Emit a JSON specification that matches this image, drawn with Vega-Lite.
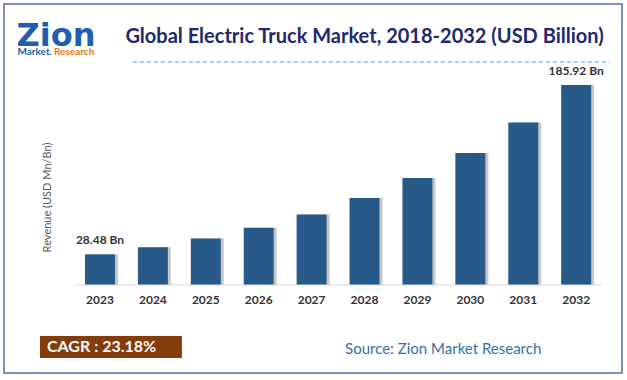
{
  "$schema": "https://vega.github.io/schema/vega-lite/v6.json",
  "width": 618,
  "height": 369,
  "autosize": {"type": "none"},
  "padding": {"left": 4, "top": 4, "right": 5, "bottom": 7},
  "background": "white",
  "config": {"view": {"stroke": "#4f7199", "strokeWidth": 1.5}, "font": "Lato"},
  "datasets": {
    "market": [
      {"year": "2023", "value": 28.48, "label": "28.48 Bn"},
      {"year": "2024", "value": 35.1, "label": ""},
      {"year": "2025", "value": 43.2, "label": ""},
      {"year": "2026", "value": 53.2, "label": ""},
      {"year": "2027", "value": 65.6, "label": ""},
      {"year": "2028", "value": 80.8, "label": ""},
      {"year": "2029", "value": 99.5, "label": ""},
      {"year": "2030", "value": 122.6, "label": ""},
      {"year": "2031", "value": 151.0, "label": ""},
      {"year": "2032", "value": 185.92, "label": "185.92 Bn"}
    ],
    "texts": [
      {"key": "title", "t": "Global Electric Truck Market, 2018-2032 (USD Billion)"},
      {"key": "zion", "t": "Zion"},
      {"key": "market", "t": "Market."},
      {"key": "research", "t": "Research"},
      {"key": "cagr", "t": "CAGR :  23.18%"},
      {"key": "source", "t": "Source: Zion Market Research"}
    ]
  },
  "layer": [
    {
      "data": {"name": "market"},
      "mark": {"type": "bar", "color": "#9a9a9a", "opacity": 0.55, "xOffset": 3, "width": {"band": 0.834}},
      "encoding": {
        "x": {
          "field": "year", "type": "ordinal",
          "scale": {"type": "band", "domain": ["2023","2024","2025","2026","2027","2028","2029","2030","2031","2032"], "paddingInner": 0.32, "paddingOuter": 1, "align": 0.737},
          "axis": {"orient": "bottom", "offset": -88, "domain": false, "ticks": false, "grid": false, "title": null, "labelPadding": 9, "labelFont": "Lato", "labelFontWeight": "bold", "labelFontSize": 12, "labelColor": "#333333", "labelAngle": 0}
        },
        "y": {
          "field": "value", "type": "quantitative",
          "scale": {"domain": [-81.8, 261.2], "zero": false, "nice": false},
          "axis": {"labels": false, "ticks": false, "domain": false, "grid": false, "title": "Revenue (USD Mn/Bn)", "titleFont": "Lato", "titleFontWeight": "normal", "titleFontSize": 11, "titleColor": "#595959", "titleX": 48, "titleY": 193, "titleAngle": -90, "titleAlign": "center"}
        },
        "y2": {"datum": 0}
      }
    },
    {
      "data": {"name": "market"},
      "mark": {"type": "bar", "color": "#275a88", "width": {"band": 0.834}},
      "encoding": {
        "x": {"field": "year", "type": "ordinal"},
        "y": {"field": "value", "type": "quantitative"},
        "y2": {"datum": 0}
      }
    },
    {
      "data": {"name": "market"},
      "mark": {"type": "text", "dy": -7, "baseline": "bottom", "fontWeight": "bold", "fontSize": 12, "color": "#333333"},
      "encoding": {
        "x": {"field": "year", "type": "ordinal"},
        "y": {"field": "value", "type": "quantitative"},
        "text": {"field": "label"}
      }
    },
    {
      "data": {"values": [{"k": 1}]},
      "mark": {"type": "rule", "color": "#d9d9d9", "strokeWidth": 1, "xOffset": -7, "x2Offset": 8},
      "encoding": {
        "x": {"datum": "2023", "type": "ordinal", "bandPosition": 0},
        "x2": {"datum": "2032", "bandPosition": 1},
        "y": {"datum": 0, "type": "quantitative"}
      }
    },
    {
      "data": {"values": [{"k": 1}]},
      "mark": {"type": "rule", "color": "#5b9bd5", "strokeWidth": 1, "strokeDash": [4, 3], "xOffset": -2, "x2Offset": 16},
      "encoding": {
        "x": {"datum": "2024", "type": "ordinal", "bandPosition": 0},
        "x2": {"datum": "2032", "bandPosition": 1},
        "y": {"datum": 207.3, "type": "quantitative"}
      }
    },
    {
      "data": {"name": "texts"},
      "transform": [{"filter": "datum.key === 'title'"}],
      "mark": {"type": "text", "align": "center", "baseline": "middle", "dx": 0, "fontSize": 20, "fontWeight": "bold", "color": "#1f2a6b"},
      "encoding": {
        "x": {"datum": "2028", "type": "ordinal"},
        "y": {"datum": 230.5, "type": "quantitative"},
        "text": {"field": "t"}
      }
    },
    {
      "data": {"name": "texts"},
      "transform": [{"filter": "datum.key === 'zion'"}],
      "mark": {"type": "text", "align": "center", "baseline": "alphabetic", "dx": -26, "font": "DejaVu Sans", "fontSize": 32, "fontWeight": "bold", "color": "#1f5fae"},
      "encoding": {
        "x": {"datum": "2023", "type": "ordinal", "bandPosition": 0},
        "y": {"datum": 222.2, "type": "quantitative"},
        "text": {"field": "t"}
      }
    },
    {
      "data": {"name": "texts"},
      "transform": [{"filter": "datum.key === 'market'"}],
      "mark": {"type": "text", "align": "right", "baseline": "middle", "dx": -30, "fontSize": 10, "fontWeight": "bold", "color": "#1f5fae"},
      "encoding": {
        "x": {"datum": "2023", "type": "ordinal", "bandPosition": 0},
        "y": {"datum": 216.6, "type": "quantitative"},
        "text": {"field": "t"}
      }
    },
    {
      "data": {"name": "texts"},
      "transform": [{"filter": "datum.key === 'research'"}],
      "mark": {"type": "text", "align": "left", "baseline": "middle", "dx": -28, "fontSize": 10, "fontWeight": "bold", "color": "#e07b18"},
      "encoding": {
        "x": {"datum": "2023", "type": "ordinal", "bandPosition": 0},
        "y": {"datum": 216.6, "type": "quantitative"},
        "text": {"field": "t"}
      }
    },
    {
      "data": {"values": [{"k": 1}]},
      "mark": {"type": "rect", "color": "#843c0c", "xOffset": -42, "x2Offset": 11},
      "encoding": {
        "x": {"datum": "2023", "type": "ordinal", "bandPosition": 0},
        "x2": {"datum": "2024", "bandPosition": 1},
        "y": {"datum": -47.4, "type": "quantitative"},
        "y2": {"datum": -67.9}
      }
    },
    {
      "data": {"name": "texts"},
      "transform": [{"filter": "datum.key === 'cagr'"}],
      "mark": {"type": "text", "align": "left", "baseline": "middle", "dx": -35, "fontSize": 16, "fontWeight": "bold", "color": "white"},
      "encoding": {
        "x": {"datum": "2023", "type": "ordinal", "bandPosition": 0},
        "y": {"datum": -57.6, "type": "quantitative"},
        "text": {"field": "t"}
      }
    },
    {
      "data": {"name": "texts"},
      "transform": [{"filter": "datum.key === 'source'"}],
      "mark": {"type": "text", "align": "left", "baseline": "middle", "dx": -1.5, "fontSize": 15, "color": "#3a6ea5"},
      "encoding": {
        "x": {"datum": "2028", "type": "ordinal", "bandPosition": 0},
        "y": {"datum": -59.5, "type": "quantitative"},
        "text": {"field": "t"}
      }
    }
  ]
}
